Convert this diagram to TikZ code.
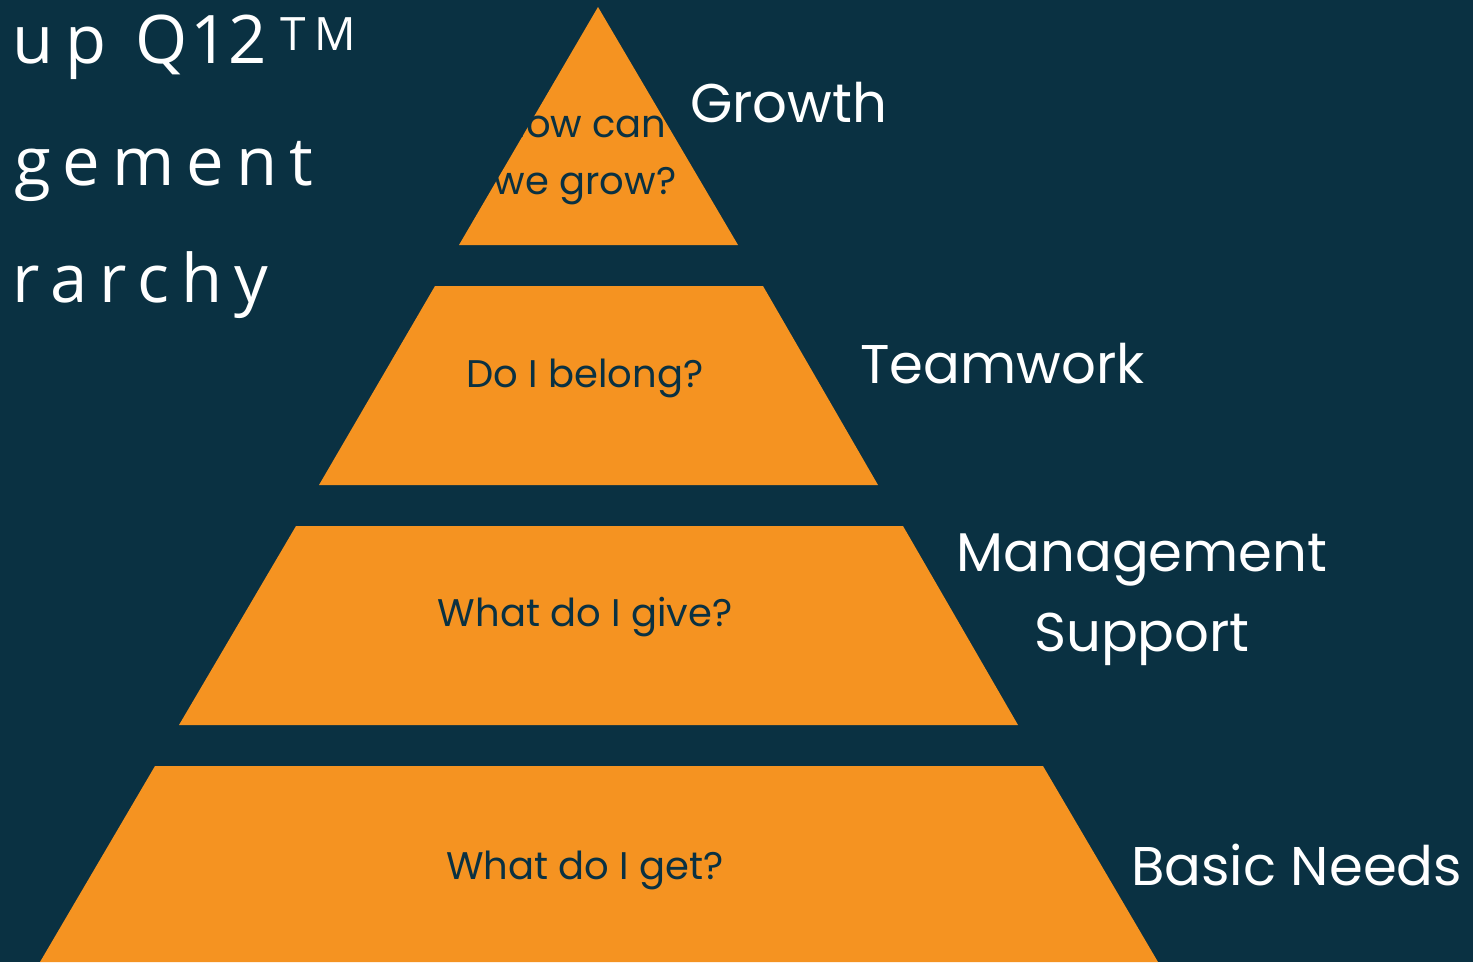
\documentclass[tikz,border=0pt]{standalone}
\usepackage{fontspec}
\setmainfont{Poppins}
\newfontfamily\titlefont[LetterSpace=18]{Open Sans}
\newfontfamily\titleplain{Open Sans}
\definecolor{bg}{HTML}{0A3142}
\definecolor{org}{HTML}{F59321}
\tikzset{
  tier/.style={fill=org, draw=none},
  inner/.style={text=bg, font=\fontsize{38.5}{42}\selectfont, anchor=base, inner sep=0pt},
  lbl/.style={text=white, font=\fontsize{54.5}{60}\selectfont, anchor=base west, inner sep=0pt},
  ttl/.style={text=white, font=\titlefont\fontsize{67}{70}\selectfont, anchor=base west, inner sep=0pt}
}
\begin{document}
\begin{tikzpicture}[x=1pt,y=-1pt]
\fill[bg] (0,0) rectangle (1473,962);
\useasboundingbox (0,0) rectangle (1473,962);
% tiers
\fill[tier] (598,7) -- (738,245) -- (459,245) -- cycle;
\fill[tier] (435,286) -- (763,286) -- (878,485) -- (319,485) -- cycle;
\fill[tier] (296,526) -- (903,526) -- (1018,725) -- (179,725) -- cycle;
\fill[tier] (155,766) -- (1043,766) -- (1158,962) -- (40,962) -- cycle;
% inner texts
\node[inner] (q1a) at (583,137) {How can};
\node[inner] (q1b) at (585,194) {we grow?};
\node[inner] (q2) at (585,387) {Do I belong?};
\node[inner] (q3) at (585,626) {What do I give?};
\node[inner] (q4) at (585,879) {What do I get?};
% labels
\node[lbl] (l1) at (690,122) {Growth};
\node[lbl] (l2) at (860,383) {Teamwork};
\node[lbl, anchor=base] (l3a) at (1142,571) {Management};
\node[lbl, anchor=base] (l3b) at (1142,651) {Support};
\node[lbl] (l4) at (1131,885) {Basic Needs};
% title
\node[ttl] (t1) at (12,63) {up Q\hspace{2pt}{\titleplain 12}\hspace{14pt}{\fontsize{46}{46}\selectfont\raisebox{13pt}{TM}}};
\node[ttl] (t2) at (14,185) {gement};
\node[ttl] (t3) at (12,302) {rarchy};
\end{tikzpicture}
\end{document}
